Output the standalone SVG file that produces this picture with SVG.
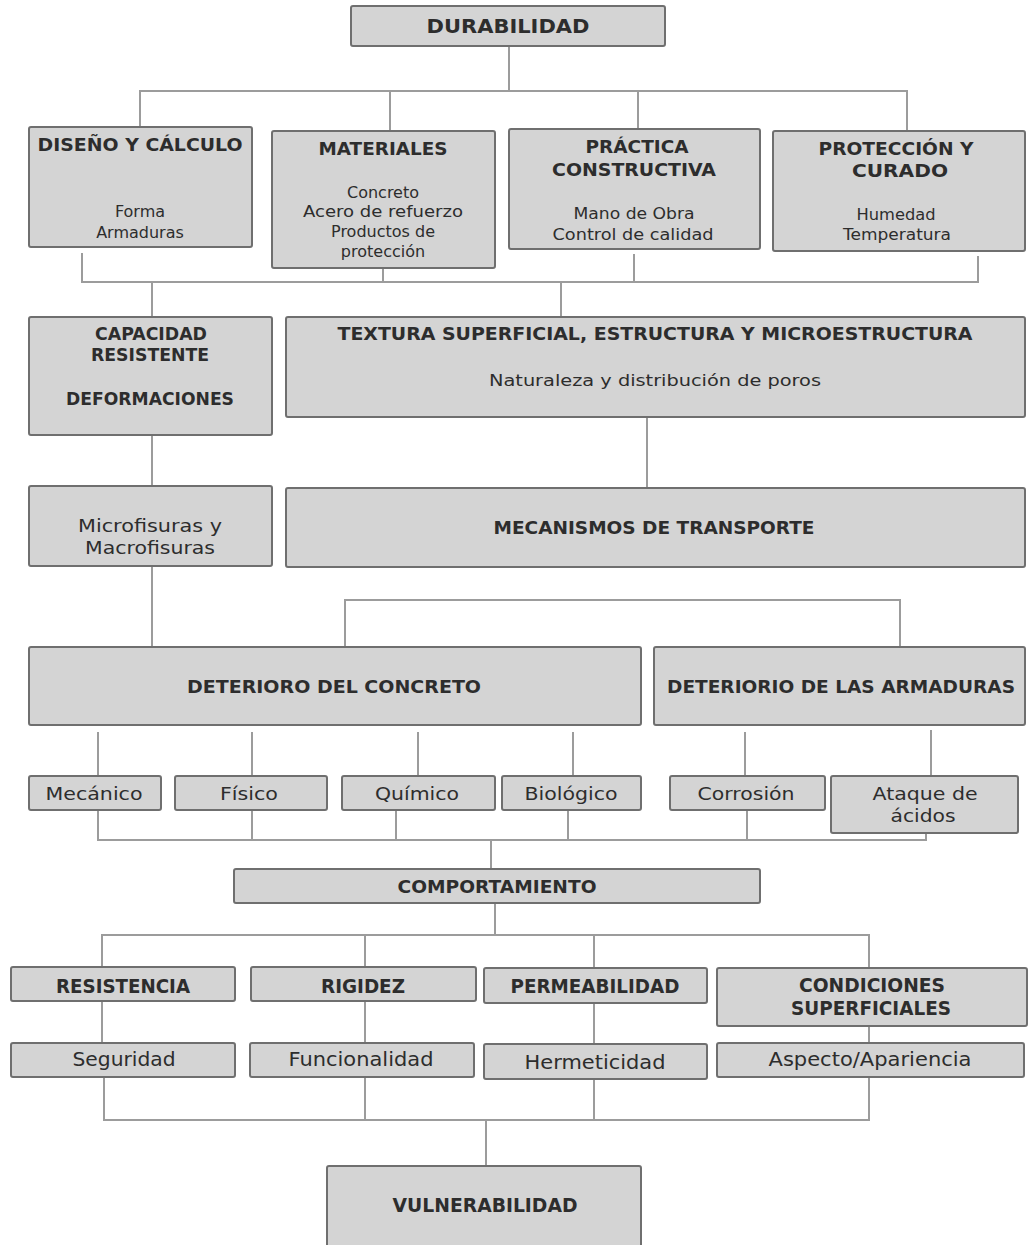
<svg xmlns="http://www.w3.org/2000/svg" width="1029" height="1245" viewBox="0 0 1029 1245">
<style>
.box{fill:#d4d4d4;stroke:#6f6f6f;stroke-width:2}
.ln{fill:none;stroke:#9c9c9c;stroke-width:2}
text{font-family:"DejaVu Sans","Liberation Sans",sans-serif;fill:#2d2d2d;text-anchor:middle}
.b{font-weight:bold}
</style>
<rect width="1029" height="1245" fill="#ffffff"/>
<g id="connectors">
<path class="ln" d="M509,46 V91 M140,128 V91 H907 V131 M390,91 V131 M638,91 V129"/>
<path class="ln" d="M82,253 V282 H978 V256 M383,268 V282 M634,254 V282 M152,282 V317 M561,282 V317"/>
<path class="ln" d="M152,435 V486 M647,417 V488 M152,566 V647 M345,647 V600 H900 V647"/>
<path class="ln" d="M98,732 V776 M252,732 V776 M418,732 V776 M573,732 V776 M745,732 V776 M931,730 V776"/>
<path class="ln" d="M98,810 V840 H926 V820 M252,810 V840 M396,810 V840 M568,810 V840 M747,810 V840 M491,840 V869"/>
<path class="ln" d="M495,903 V935 M102,967 V935 H869 V968 M365,935 V967 M594,935 V968"/>
<path class="ln" d="M102,1001 V1043 M365,1001 V1043 M594,1003 V1044 M869,985 V1043"/>
<path class="ln" d="M104,1077 V1120 H869 V1077 M365,1077 V1120 M594,1079 V1120 M486,1120 V1166"/>
</g>
<g id="durabilidad"><rect class="box" x="351" y="6" width="314" height="40" rx="2"/><text class="b" x="508" y="33" font-size="20" textLength="163" lengthAdjust="spacingAndGlyphs">DURABILIDAD</text></g>
<g id="diseno"><rect class="box" x="29" y="127" width="223" height="120" rx="2"/><text class="b" x="140" y="151" font-size="18" textLength="205" lengthAdjust="spacingAndGlyphs">DISEÑO Y CÁLCULO</text><text x="140" y="217" font-size="16">Forma</text><text x="140" y="238" font-size="16">Armaduras</text></g>
<g id="materiales"><rect class="box" x="272" y="131" width="223" height="137" rx="2"/><text class="b" x="383" y="155" font-size="18" textLength="129" lengthAdjust="spacingAndGlyphs">MATERIALES</text><text x="383" y="198" font-size="16">Concreto</text><text x="383" y="217" font-size="16" textLength="160" lengthAdjust="spacingAndGlyphs">Acero de refuerzo</text><text x="383" y="237" font-size="16">Productos de</text><text x="383" y="257" font-size="16">protección</text></g>
<g id="practica"><rect class="box" x="509" y="129" width="251" height="120" rx="2"/><text class="b" x="637" y="153" font-size="18" textLength="103" lengthAdjust="spacingAndGlyphs">PRÁCTICA</text><text class="b" x="634" y="176" font-size="18" textLength="164" lengthAdjust="spacingAndGlyphs">CONSTRUCTIVA</text><text x="634" y="219" font-size="16" textLength="121" lengthAdjust="spacingAndGlyphs">Mano de Obra</text><text x="633" y="240" font-size="16" textLength="161" lengthAdjust="spacingAndGlyphs">Control de calidad</text></g>
<g id="proteccion"><rect class="box" x="773" y="131" width="252" height="120" rx="2"/><text class="b" x="896" y="155" font-size="18" textLength="155" lengthAdjust="spacingAndGlyphs">PROTECCIÓN Y</text><text class="b" x="900" y="177" font-size="18" textLength="96" lengthAdjust="spacingAndGlyphs">CURADO</text><text x="896" y="220" font-size="16" textLength="79" lengthAdjust="spacingAndGlyphs">Humedad</text><text x="897" y="240" font-size="16" textLength="108" lengthAdjust="spacingAndGlyphs">Temperatura</text></g>
<g id="capacidad"><rect class="box" x="29" y="317" width="243" height="118" rx="2"/><text class="b" x="151" y="340" font-size="17" textLength="112" lengthAdjust="spacingAndGlyphs">CAPACIDAD</text><text class="b" x="150" y="361" font-size="17" textLength="118" lengthAdjust="spacingAndGlyphs">RESISTENTE</text><text class="b" x="150" y="405" font-size="17" textLength="168" lengthAdjust="spacingAndGlyphs">DEFORMACIONES</text></g>
<g id="textura"><rect class="box" x="286" y="317" width="739" height="100" rx="2"/><text class="b" x="655" y="340" font-size="17" textLength="635" lengthAdjust="spacingAndGlyphs">TEXTURA SUPERFICIAL, ESTRUCTURA Y MICROESTRUCTURA</text><text x="655" y="386" font-size="16" textLength="332" lengthAdjust="spacingAndGlyphs">Naturaleza y distribución de poros</text></g>
<g id="microfisuras"><rect class="box" x="29" y="486" width="243" height="80" rx="2"/><text x="150" y="532" font-size="17" textLength="144" lengthAdjust="spacingAndGlyphs">Microfisuras y</text><text x="150" y="554" font-size="17" textLength="130" lengthAdjust="spacingAndGlyphs">Macrofisuras</text></g>
<g id="mecanismos"><rect class="box" x="286" y="488" width="739" height="79" rx="2"/><text class="b" x="654" y="534" font-size="17" textLength="321" lengthAdjust="spacingAndGlyphs">MECANISMOS DE TRANSPORTE</text></g>
<g id="deterioro-concreto"><rect class="box" x="29" y="647" width="612" height="78" rx="2"/><text class="b" x="334" y="693" font-size="18" textLength="294" lengthAdjust="spacingAndGlyphs">DETERIORO DEL CONCRETO</text></g>
<g id="deterioro-armaduras"><rect class="box" x="654" y="647" width="371" height="78" rx="2"/><text class="b" x="841" y="693" font-size="18" textLength="348" lengthAdjust="spacingAndGlyphs">DETERIORIO DE LAS ARMADURAS</text></g>
<g id="mecanico"><rect class="box" x="29" y="776" width="132" height="34" rx="2"/><text x="94" y="800" font-size="17" textLength="97" lengthAdjust="spacingAndGlyphs">Mecánico</text></g>
<g id="fisico"><rect class="box" x="175" y="776" width="152" height="34" rx="2"/><text x="249" y="800" font-size="17" textLength="58" lengthAdjust="spacingAndGlyphs">Físico</text></g>
<g id="quimico"><rect class="box" x="342" y="776" width="153" height="34" rx="2"/><text x="417" y="800" font-size="17" textLength="84" lengthAdjust="spacingAndGlyphs">Químico</text></g>
<g id="biologico"><rect class="box" x="502" y="776" width="139" height="34" rx="2"/><text x="571" y="800" font-size="17" textLength="93" lengthAdjust="spacingAndGlyphs">Biológico</text></g>
<g id="corrosion"><rect class="box" x="670" y="776" width="155" height="34" rx="2"/><text x="746" y="800" font-size="17" textLength="97" lengthAdjust="spacingAndGlyphs">Corrosión</text></g>
<g id="ataque"><rect class="box" x="831" y="776" width="187" height="57" rx="2"/><text x="925" y="800" font-size="17" textLength="105" lengthAdjust="spacingAndGlyphs">Ataque de</text><text x="923" y="822" font-size="17" textLength="65" lengthAdjust="spacingAndGlyphs">ácidos</text></g>
<g id="comportamiento"><rect class="box" x="234" y="869" width="526" height="34" rx="2"/><text class="b" x="497" y="893" font-size="17" textLength="199" lengthAdjust="spacingAndGlyphs">COMPORTAMIENTO</text></g>
<g id="resistencia"><rect class="box" x="11" y="967" width="224" height="34" rx="2"/><text class="b" x="123" y="993" font-size="19" textLength="134" lengthAdjust="spacingAndGlyphs">RESISTENCIA</text></g>
<g id="rigidez"><rect class="box" x="251" y="967" width="225" height="34" rx="2"/><text class="b" x="363" y="993" font-size="19" textLength="84" lengthAdjust="spacingAndGlyphs">RIGIDEZ</text></g>
<g id="permeabilidad"><rect class="box" x="484" y="968" width="223" height="35" rx="2"/><text class="b" x="595" y="993" font-size="19" textLength="169" lengthAdjust="spacingAndGlyphs">PERMEABILIDAD</text></g>
<g id="condiciones"><rect class="box" x="717" y="968" width="310" height="58" rx="2"/><text class="b" x="872" y="992" font-size="19" textLength="146" lengthAdjust="spacingAndGlyphs">CONDICIONES</text><text class="b" x="871" y="1015" font-size="19" textLength="160" lengthAdjust="spacingAndGlyphs">SUPERFICIALES</text></g>
<g id="seguridad"><rect class="box" x="11" y="1043" width="224" height="34" rx="2"/><text x="124" y="1066" font-size="19" textLength="103" lengthAdjust="spacingAndGlyphs">Seguridad</text></g>
<g id="funcionalidad"><rect class="box" x="250" y="1043" width="224" height="34" rx="2"/><text x="361" y="1066" font-size="19" textLength="145" lengthAdjust="spacingAndGlyphs">Funcionalidad</text></g>
<g id="hermeticidad"><rect class="box" x="484" y="1044" width="223" height="35" rx="2"/><text x="595" y="1069" font-size="19" textLength="141" lengthAdjust="spacingAndGlyphs">Hermeticidad</text></g>
<g id="aspecto"><rect class="box" x="717" y="1043" width="307" height="34" rx="2"/><text x="870" y="1066" font-size="19" textLength="203" lengthAdjust="spacingAndGlyphs">Aspecto/Apariencia</text></g>
<g id="vulnerabilidad"><rect class="box" x="327" y="1166" width="314" height="84" rx="2"/><text class="b" x="485" y="1212" font-size="20" textLength="185" lengthAdjust="spacingAndGlyphs">VULNERABILIDAD</text></g>
</svg>
